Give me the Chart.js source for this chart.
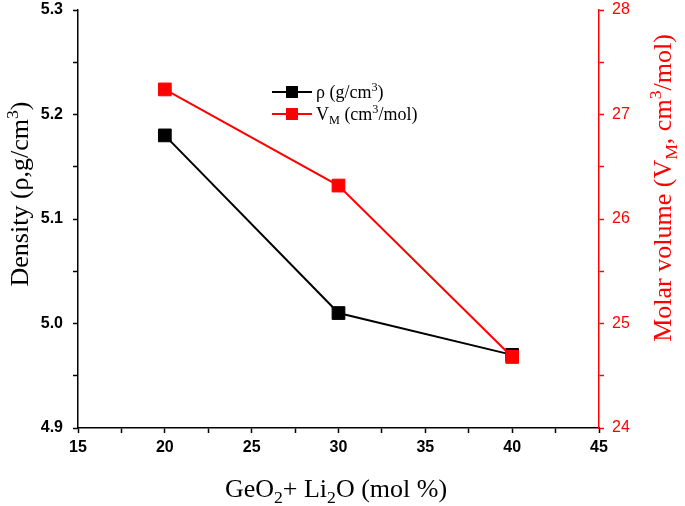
<!DOCTYPE html>
<html>
<head>
<meta charset="utf-8">
<script src="https://cdn.jsdelivr.net/npm/chart.js@4.4.1/dist/chart.umd.min.js"></script>
<style>
  html, body { margin: 0; padding: 0; background: #fff; }
  #wrap { width: 685px; height: 506px; }
</style>
</head>
<body>
<div id="wrap"><canvas id="chart" width="685" height="506"></canvas></div>
<script>
// data
const composition = [20, 30, 40];
const density = [5.18, 5.01, 4.97];
const molarVolume = [27.24, 26.32, 24.68];

// axis ranges / tick labels
const xRange = [15, 45];
const densityRange = [4.9, 5.3];
const volumeRange = [24, 28];

const red = "#ff0000";
const tickFont = { family: "'Liberation Sans', Arial, sans-serif", size: 16, weight: "bold" };
const serif = "'Liberation Serif', 'Times New Roman', serif";

// draw text made of pieces, some raised (sup) or lowered (sub)
function richWidth(ctx, parts, size) {
  let w = 0;
  parts.forEach((p) => {
    ctx.font = (p.s ? size * 0.68 : size) + "px " + serif;
    w += ctx.measureText(p.t).width;
  });
  return w;
}
function drawRich(ctx, parts, x, y, size, color) {
  ctx.fillStyle = color;
  ctx.textBaseline = "alphabetic";
  ctx.textAlign = "left";
  let cx = x;
  parts.forEach((p) => {
    const fs = p.s ? size * 0.68 : size;
    ctx.font = fs + "px " + serif;
    let dy = 0;
    if (p.s === "sup") dy = -size * 0.38;
    if (p.s === "sub") dy = size * 0.22;
    ctx.fillText(p.t, cx, y + dy);
    cx += ctx.measureText(p.t).width;
  });
}

const xTitle = [{ t: "GeO" }, { t: "2", s: "sub" }, { t: "+ Li" }, { t: "2", s: "sub" }, { t: "O (mol %)" }];
const leftTitle = [{ t: "Density (\u03c1,g/cm" }, { t: "3", s: "sup" }, { t: ")" }];
const rightTitle = [{ t: "Molar volume (V" }, { t: "M", s: "sub" }, { t: ", cm" }, { t: "3", s: "sup" }, { t: "/mol)" }];
const legendItems = [
  { color: "#000000", parts: [{ t: "\u03c1 (g/cm" }, { t: "3", s: "sup" }, { t: ")" }] },
  { color: red, parts: [{ t: "V" }, { t: "M", s: "sub" }, { t: " (cm" }, { t: "3", s: "sup" }, { t: "/mol)" }] },
];

const titlesPlugin = {
  id: "titles",
  afterDraw(chart) {
    const ctx = chart.ctx;
    const size = 26;
    ctx.save();
    // bottom title
    let w = richWidth(ctx, xTitle, size);
    drawRich(ctx, xTitle, 336 - w / 2, 497, size, "#000");
    // left title (rotated)
    ctx.save();
    ctx.translate(28, 194);
    ctx.rotate(-Math.PI / 2);
    w = richWidth(ctx, leftTitle, size);
    drawRich(ctx, leftTitle, -w / 2, 0, size, "#000");
    ctx.restore();
    // right title (rotated)
    ctx.save();
    ctx.translate(671, 188);
    ctx.rotate(-Math.PI / 2);
    w = richWidth(ctx, rightTitle, size);
    drawRich(ctx, rightTitle, -w / 2, 0, size, red);
    ctx.restore();
    // legend
    legendItems.forEach((item, i) => {
      const y = 92 + i * 22;
      ctx.strokeStyle = item.color;
      ctx.lineWidth = 2;
      ctx.beginPath();
      ctx.moveTo(272, y);
      ctx.lineTo(312, y);
      ctx.stroke();
      ctx.fillStyle = item.color;
      ctx.fillRect(286, y - 6, 12, 12);
      drawRich(ctx, item.parts, 316, y + 6, 18, "#000");
    });
    ctx.restore();
  },
};

// fixed axis sizes so the plot area sits where it does in the figure
function fixY(width) {
  return (s) => {
    s.width = width;
    s.paddingTop = 0;
    s.paddingBottom = 0;
  };
}

const ctx = document.getElementById("chart").getContext("2d");
const chart = new Chart(ctx, {
  type: "line",
  data: {
    datasets: [
      {
        label: "rho",
        data: composition.map((x, i) => ({ x: x, y: density[i] })),
        borderColor: "#000000",
        backgroundColor: "#000000",
        borderWidth: 2,
        pointStyle: "rect",
        pointRadius: 9,
        pointBorderWidth: 1,
        yAxisID: "y",
        order: 1,
      },
      {
        label: "VM",
        data: composition.map((x, i) => ({ x: x, y: molarVolume[i] })),
        borderColor: red,
        backgroundColor: red,
        borderWidth: 2,
        pointStyle: "rect",
        pointRadius: 9,
        pointBorderWidth: 1,
        yAxisID: "y1",
        order: 0,
      },
    ],
  },
  options: {
    responsive: false,
    animation: false,
    layout: { padding: { top: 10, left: 0, right: 0, bottom: 0 } },
    plugins: { legend: { display: false }, tooltip: { enabled: false } },
    scales: {
      x: {
        type: "linear",
        min: xRange[0],
        max: xRange[1],
        afterFit: (s) => {
          s.height = 78;
          s.paddingLeft = 0;
          s.paddingRight = 0;
        },
        border: { color: "#000", width: 1.5 },
        grid: { drawOnChartArea: false, tickLength: 5, tickColor: "#000", tickWidth: 1.5 },
        ticks: {
          stepSize: 2.5,
          color: "#000",
          font: tickFont,
          padding: 5,
          maxRotation: 0,
          autoSkip: false,
          callback: (v) => (v % 5 === 0 ? v : ""),
        },
      },
      y: {
        position: "left",
        min: densityRange[0],
        max: densityRange[1],
        afterFit: fixY(78),
        border: { color: "#000", width: 1.5 },
        grid: { drawOnChartArea: false, tickLength: 5, tickColor: "#000", tickWidth: 1.5 },
        ticks: {
          stepSize: 0.05,
          color: "#000",
          font: tickFont,
          padding: 10,
          autoSkip: false,
          callback: (v) => (Math.abs(Math.round(v * 10) - v * 10) < 1e-6 ? v.toFixed(1) : ""),
        },
      },
      y1: {
        position: "right",
        min: volumeRange[0],
        max: volumeRange[1],
        afterFit: fixY(86),
        border: { color: red, width: 1.5 },
        grid: { drawOnChartArea: false, tickLength: 5, tickColor: red, tickWidth: 1.5 },
        ticks: {
          stepSize: 0.5,
          color: red,
          font: { family: "'Liberation Sans', Arial, sans-serif", size: 16 },
          padding: 8,
          autoSkip: false,
          callback: (v) => (v % 1 === 0 ? v : ""),
        },
      },
    },
  },
  plugins: [titlesPlugin],
});
</script>
</body>
</html>
